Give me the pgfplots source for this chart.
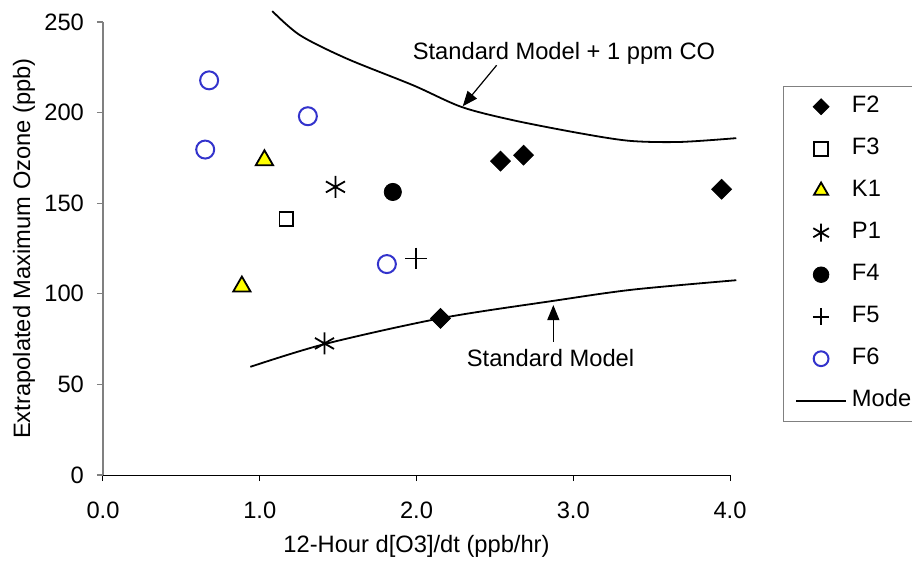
\documentclass[border=0pt]{standalone}
\usepackage{fontspec}
\setmainfont{Liberation Sans}
\usepackage{pgfplots}
\pgfplotsset{compat=1.18}
\usetikzlibrary{arrows.meta}

\definecolor{ptblue}{RGB}{51,51,204}
\definecolor{ptyellow}{RGB}{255,255,0}
\definecolor{axgray}{RGB}{128,128,128}

\begin{document}
\fontsize{23.7}{28}\selectfont
\begin{tikzpicture}
\begin{axis}[
  scale only axis, width=627pt, height=453pt,
  xmin=0, xmax=4, ymin=0, ymax=250,
  axis x line=bottom, axis y line=left,
  x axis line style={black, line width=1pt, -},
  y axis line style={axgray, line width=1.2pt, -},
  xtick={0,1,2,3,4}, ytick={0,50,...,250},
  tick align=outside, major tick length=6pt,
  xtick style={black, line width=1pt},
  ytick style={axgray, line width=1.2pt},
  /pgf/number format/assume math mode=true,
  xticklabel style={/pgf/number format/.cd, fixed, fixed zerofill, precision=1, /tikz/.cd, yshift=-13pt},
  yticklabel style={xshift=-5pt},
  xlabel={12-Hour d[O3]/dt (ppb/hr)},
  ylabel={Extrapolated Maximum Ozone (ppb)},
  every axis x label/.style={at={(axis description cs:0.5,-0.158)}, anchor=center},
  every axis y label/.style={at={(axis description cs:-0.126,0.5)}, anchor=center, rotate=90},
  clip=false,
  legend cell align=left,
  legend style={at={(1.0845,0.8587)}, anchor=north west, draw=axgray,
    inner xsep=12pt, inner ysep=10pt, row sep=21pt, column sep=5pt,
    nodes={inner sep=0pt, text height=16pt, text depth=5pt, anchor=west}},
  legend image code/.code={\draw[mark repeat=2,mark phase=2,#1] plot coordinates {(0pt,0pt)(25pt,0pt)(50pt,0pt)};},
]
% model curves
\addplot[black, line width=1.8pt, smooth, forget plot] coordinates {
  (0.94,59.7) (1.42,72.4) (2.16,86.6) (2.88,96.2) (3.38,102.3) (4.04,107.5)};
\addplot[black, line width=1.8pt, smooth, forget plot] coordinates {
  (1.08,256.0) (1.257,242.7) (1.555,229.8) (1.978,215.1)
  (2.288,203.1) (2.616,195.8) (3.043,188.6) (3.362,184.4) (3.681,183.8) (4.04,185.9)};

% experiments
\addplot[only marks, mark=square*, mark size=7pt, mark options={rotate=45, fill=black, draw=black, line width=0.8pt},
  legend image post style={mark size=5.6pt}] coordinates {
  (2.153,86.4) (2.536,173.2) (2.683,176.5) (3.946,157.7)};
\addlegendentry{F2}
\addplot[only marks, mark=square, mark size=6.8pt, mark options={draw=black, line width=1.8pt},
  legend image post style={mark size=7pt}] coordinates {
  (1.169,141.2)};
\addlegendentry{F3}
\addplot[only marks, mark=triangle*, mark size=10pt, mark options={fill=ptyellow, draw=black, line width=1.8pt},
  legend image post style={mark size=8.2pt}] coordinates {
  (1.030,173.7) (0.886,104.0)};
\addlegendentry{K1}
\addplot[only marks, mark=asterisk, mark size=11pt, mark options={draw=black, line width=1.8pt},
  legend image post style={mark size=9pt}] coordinates {
  (1.483,159.0) (1.413,72.6)};
\addlegendentry{P1}
\addplot[only marks, mark=*, mark size=8.6pt, mark options={fill=black, draw=black, line width=0.8pt},
  legend image post style={mark size=7.8pt}] coordinates {
  (1.849,156.2)};
\addlegendentry{F4}
\addplot[only marks, mark=+, mark size=10.8pt, mark options={draw=black, line width=1.8pt},
  legend image post style={mark size=8.3pt}] coordinates {
  (1.998,119.5)};
\addlegendentry{F5}
\addplot[only marks, mark=o, mark size=9pt, mark options={draw=ptblue, line width=2pt},
  legend image post style={mark size=7.4pt}] coordinates {
  (0.677,217.8) (0.652,179.6) (1.307,198.0) (1.811,116.4)};
\addlegendentry{F6}
\addlegendimage{black, line width=1.8pt}
\addlegendentry{Model}

% annotations
\node at (axis cs:2.941,232.6) {Standard Model + 1 ppm CO};
\draw[line width=1.2pt, -{Triangle[length=15pt, width=12pt]}] (axis cs:2.511,226.1) -- (axis cs:2.295,203.5);
\node at (axis cs:2.855,64.5) {Standard Model};
\draw[line width=1.2pt, -{Triangle[length=15pt, width=12pt]}] (axis cs:2.873,73.5) -- (axis cs:2.873,93.8);
\end{axis}
\pgfresetboundingbox
\path (-103pt,-85pt) rectangle (809pt,475pt);
\end{tikzpicture}
\end{document}
